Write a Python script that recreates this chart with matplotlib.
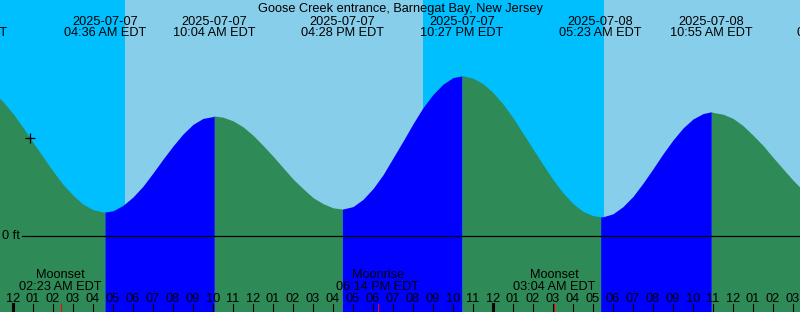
import matplotlib.pyplot as plt

# tide chart, times in hours after midnight 2025-07-07 EDT, heights in ft
title = "Goose Creek entrance, Barnegat Bay, New Jersey"

hours = [h / 2 for h in range(-2, 80)]
heights = [2.40, 2.24, 2.04, 1.81, 1.56, 1.32, 1.08, 0.86, 0.68, 0.53,
           0.44, 0.40, 0.42, 0.51, 0.65, 0.83, 1.05, 1.28, 1.50, 1.70,
           1.86, 1.96, 1.99, 1.98, 1.92, 1.82, 1.68, 1.51, 1.33, 1.14,
           0.95, 0.79, 0.64, 0.54, 0.47, 0.45, 0.49, 0.61, 0.79, 1.02,
           1.30, 1.58, 1.87, 2.14, 2.36, 2.53, 2.64, 2.67, 2.63, 2.54,
           2.39, 2.20, 1.97, 1.71, 1.45, 1.19, 0.94, 0.72, 0.54, 0.41,
           0.34, 0.32, 0.37, 0.49, 0.66, 0.88, 1.12, 1.37, 1.60, 1.80,
           1.95, 2.04, 2.06, 2.03, 1.96, 1.84, 1.68, 1.51, 1.31, 1.12,
           0.93, 0.76]

# high / low tides
event_hours = [-2.35, 4.600, 10.067, 16.467, 22.450, 29.383, 34.917, 41.26]
event_heights = [2.60, 0.40, 2.00, 0.45, 2.67, 0.32, 2.07, 0.45]
event_dates = ["2025-07-06", "2025-07-07", "2025-07-07", "2025-07-07",
               "2025-07-07", "2025-07-08", "2025-07-08", "2025-07-08"]
event_times = ["09:39 PM EDT", "04:36 AM EDT", "10:04 AM EDT", "04:28 PM EDT",
               "10:27 PM EDT", "05:23 AM EDT", "10:55 AM EDT", "05:16 PM EDT"]

# night spans (sunset -> sunrise)
night_start = [-3.0, 20.48]
night_end = [5.58, 29.53]

moon_hours = [2.383, 18.233, 27.067]
moon_names = ["Moonset", "Moonrise", "Moonset"]
moon_times = ["02:23 AM EDT", "06:14 PM EDT", "03:04 AM EDT"]

now_hour = 0.835
now_height = 1.64

W, H = 800, 312
px_per_ft = 60.0
zero_px = 236          # pixel row of 0 ft from top
x0, x1 = -0.65, 39.35

plt.rcParams['font.family'] = ['Liberation Sans', 'DejaVu Sans']

fig = plt.figure(figsize=(W / 100, H / 100), dpi=100)
ax = fig.add_axes([0, 0, 1, 1])
ymin = -(H - zero_px) / px_per_ft
ymax = zero_px / px_per_ft
ax.set_xlim(x0, x1)
ax.set_ylim(ymin, ymax)
ax.axis("off")

day_col = "#87CEEB"
night_col = "#00BFFF"
rise_col = "#0000FF"
fall_col = "#2E8B57"

ax.axvspan(-5, 45, color=day_col, lw=0, zorder=0)
for a, b in zip(night_start, night_end):
    ax.axvspan(a, b, color=night_col, lw=0, zorder=0.5)

# merge half-hour samples with the tide extremes
pts = sorted(set(zip(hours, heights)) | set(zip(event_hours, event_heights)))
ts = [p[0] for p in pts]
hs = [p[1] for p in pts]

for i in range(len(event_hours) - 1):
    a, b = event_hours[i], event_hours[i + 1]
    seg = [(t, h) for t, h in zip(ts, hs) if a <= t <= b]
    col = rise_col if event_heights[i + 1] > event_heights[i] else fall_col
    ax.fill_between([p[0] for p in seg], ymin, [p[1] for p in seg],
                    color=col, lw=0, zorder=1)

xt = ax.get_xaxis_transform()
def fy(px):
    return 1 - px / H

fs = 9.2
# 0 ft line
ax.axhline(0, xmin=22 / W, xmax=1, color="black", lw=0.9, zorder=2)
ax.text(2 / W, fy(236), "0 ft", transform=ax.transAxes, fontsize=fs,
        va="center", ha="left")

ax.plot([now_hour], [now_height], marker="+", color="black", ms=7, mew=0.9,
        zorder=3)

ax.text(0.5, fy(12), title, transform=ax.transAxes, fontsize=fs,
        ha="center", va="baseline")

for t, d, s in zip(event_hours, event_dates, event_times):
    ax.text(t, fy(25), d, transform=xt, fontsize=fs, ha="center", va="baseline")
    ax.text(t, fy(36.5), s, transform=xt, fontsize=fs, ha="center", va="baseline")

for t, n, s in zip(moon_hours, moon_names, moon_times):
    ax.text(t, fy(278), n, transform=xt, fontsize=fs, ha="center", va="baseline")
    ax.text(t, fy(290), s, transform=xt, fontsize=fs, ha="center", va="baseline")
    ax.plot([t, t], [fy(304), fy(312)], transform=xt, color="red", lw=0.8,
            zorder=3)

# hour ticks
for h in range(0, 40):
    hh = h % 12
    lab = "%02d" % (12 if hh == 0 else hh)
    ax.text(h, fy(302), lab, transform=xt, fontsize=fs, ha="center",
            va="baseline")
    lw = 2.2 if h % 24 == 0 else 0.8
    ax.plot([h, h], [fy(304), fy(312)], transform=xt, color="black", lw=lw,
            zorder=3)

fig.savefig("out.png", dpi=100)
